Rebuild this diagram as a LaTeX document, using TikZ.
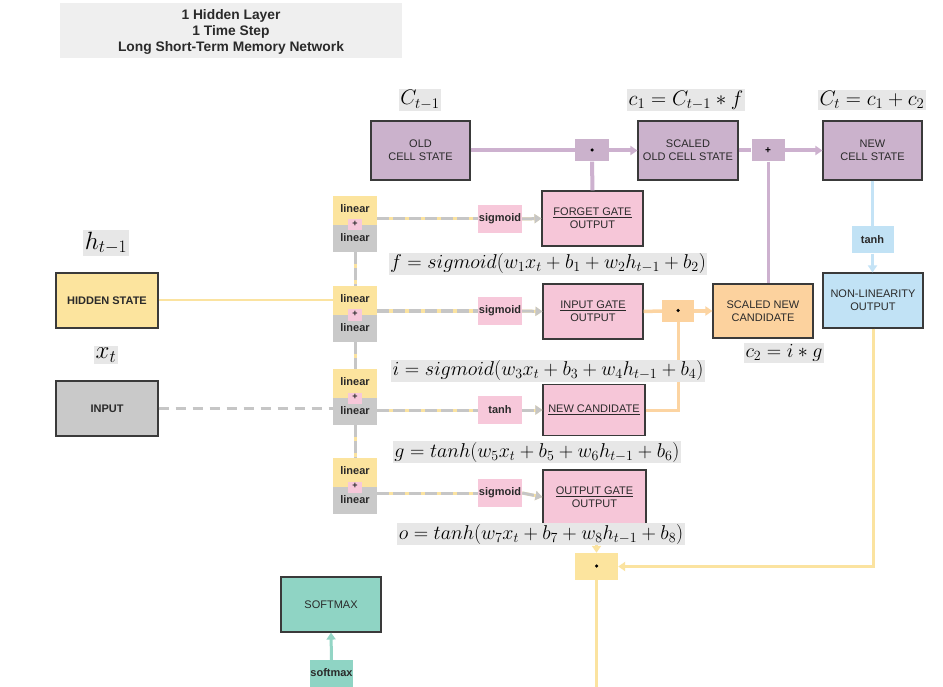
\documentclass[tikz,border=0pt]{standalone}
\usepackage{fix-cm}
\usepackage{fontspec}
\setmainfont{Liberation Sans}
\usetikzlibrary{arrows.meta}
\definecolor{cellfill}{HTML}{CBB2CC}
\definecolor{cellline}{HTML}{CDB1CF}
\definecolor{gatefill}{HTML}{F6C6D8}
\definecolor{sigfill}{HTML}{F7C8DA}
\definecolor{yelfill}{HTML}{FCE49E}
\definecolor{yelline}{HTML}{FBE3A0}
\definecolor{grayfill}{HTML}{C9C9C9}
\definecolor{grayline}{HTML}{C6C6C6}
\definecolor{orafill}{HTML}{FCD29E}
\definecolor{oraline}{HTML}{FCD4A2}
\definecolor{bluefill}{HTML}{C1E2F5}
\definecolor{blueline}{HTML}{C4E3F6}
\definecolor{tealfill}{HTML}{8FD4C4}
\definecolor{tealline}{HTML}{93D5C5}
\definecolor{labelgray}{HTML}{E7E7E7}
\definecolor{titlegray}{HTML}{EFEFEF}
\definecolor{boxborder}{HTML}{3A3A3A}
\definecolor{txt}{HTML}{2A2A2A}
\begin{document}
\begin{tikzpicture}[x=1pt,y=-1pt,
  bigbox/.style={draw=boxborder, line width=1.1pt, minimum width=100pt, minimum height=56pt, inner sep=0pt, align=center, text=txt, font=\fontsize{11}{13}\selectfont},
  smallbox/.style={inner sep=0pt, minimum width=44pt, minimum height=28pt, text=txt, font=\bfseries\fontsize{11}{13}\selectfont},
  opbox/.style={inner sep=0pt, minimum width=34pt, minimum height=22pt},
  mathlbl/.style={fill=labelgray, inner sep=1.5pt, text=black, font=\fontsize{20}{24}\selectfont},
  toplbl/.style={mathlbl, font=\fontsize{21}{25}\selectfont},
  arr/.style={-{Triangle[length=7pt,width=9pt]}},
  ygdash/.style={line width=3pt, draw=grayline, dash pattern=on 12pt off 4pt, preaction={draw=yelline, solid, line width=3pt}},
  dotsym/.style={circle, fill=black, inner sep=0pt, minimum size=3.5pt}
]
\clip (0,0) rectangle (943,687);
\fill[white] (0,0) rectangle (943,687);

% title
\node[fill=titlegray, minimum width=342pt, minimum height=55pt, inner sep=0pt] (titlebox) at (231,30.5) {};
\node[font=\bfseries\fontsize{13.8}{16}\selectfont, align=center, text=txt] (title) at (231,32) {1 Hidden Layer\\1 Time Step\\Long Short-Term Memory Network};

% cell state row
\node[bigbox, fill=cellfill, minimum width=99pt, minimum height=59pt] (oldcell) at (420.5,150.5) {OLD\\CELL STATE};
\node[bigbox, fill=cellfill, minimum width=100pt, minimum height=59pt] (scaled) at (688,150.5) {SCALED\\OLD CELL STATE};
\node[bigbox, fill=cellfill, minimum width=99pt, minimum height=59pt] (newcell) at (872.5,150.5) {NEW\\CELL STATE};
\node[opbox, fill=cellfill] (dotA) at (592,150.5) {};
\node[dotsym] (dotAs) at (592,150) {};
\node[opbox, fill=cellfill, minimum width=33pt] (plusA) at (768,150.5) {};
\node[font=\bfseries\fontsize{10}{11}\selectfont] (plusAs) at (768,150.5) {+};

\node[toplbl] (lblC) at (420,100) {$C_{t-1}$};
\node[toplbl] (lblc1) at (686,100) {$c_1 = C_{t-1} \ast f$};
\node[toplbl] (lblCt) at (872,100) {$C_t = c_1 + c_2$};

% gates
\node[bigbox, fill=gatefill, minimum width=101pt, minimum height=55pt] (forget) at (592.5,218.5) {\underline{FORGET GATE}\\OUTPUT};
\node[bigbox, fill=gatefill, minimum width=100pt, minimum height=55pt] (ingate) at (593,311.5) {\underline{INPUT GATE}\\OUTPUT};
\node[bigbox, fill=gatefill, minimum width=102pt, minimum height=51pt] (newcand) at (594,410) {\underline{NEW CANDIDATE}};
\node[bigbox, fill=gatefill, minimum width=103pt, minimum height=54pt] (outgate) at (594.5,497) {\underline{OUTPUT GATE}\\OUTPUT};

\node[smallbox, fill=sigfill] (sig1) at (500,219) {sigmoid};
\node[smallbox, fill=sigfill] (sig2) at (500,311) {sigmoid};
\node[smallbox, fill=sigfill] (tanh1) at (500,410) {tanh};
\node[smallbox, fill=sigfill] (sig3) at (500,493) {sigmoid};

% linear blocks
\foreach \n/\t in {1/196,2/286,3/369,4/458}{
  \node[smallbox, fill=yelfill, minimum height=29pt] (lin\n y) at (355,\t+14.5) {};
  \node[smallbox, fill=grayfill, minimum height=27pt] (lin\n g) at (355,\t+42.5) {};
  \node[fill=sigfill, minimum width=14pt, minimum height=11pt, inner sep=0pt] (lin\n p) at (355,\t+29) {};
  \node[smallbox, minimum height=0pt] (lin\n a) at (355,\t+13) {linear};
  \node[font=\bfseries\fontsize{9}{10}\selectfont, inner sep=0pt, text=txt] (lin\n b) at (355,\t+28) {+};
  \node[smallbox, minimum height=0pt] (lin\n c) at (355,\t+42) {linear};
}

% left inputs
\node[bigbox, fill=yelfill, minimum width=102pt, minimum height=55pt, font=\bfseries\fontsize{11}{13}\selectfont] (hidden) at (107,300.5) {HIDDEN STATE};
\node[bigbox, fill=grayfill, minimum width=102pt, minimum height=55pt, font=\bfseries\fontsize{11}{13}\selectfont] (input) at (107,408.5) {INPUT};
\node[mathlbl, font=\fontsize{25}{29}\selectfont] (lblh) at (106,243) {$h_{t-1}$};
\node[mathlbl, font=\fontsize{25}{29}\selectfont] (lblx) at (106,355) {$x_t$};

% right side
\node[opbox, fill=orafill, minimum width=32pt] (dotB) at (678,311) {};
\node[dotsym] (dotBs) at (678,310.5) {};
\node[bigbox, fill=orafill, minimum width=100pt, minimum height=54pt] (scand) at (763,311) {SCALED NEW\\CANDIDATE};
\node[mathlbl] (lblc2) at (784,353) {$c_2 = i \ast g$};
\node[smallbox, fill=bluefill, minimum width=42pt, minimum height=27pt] (tanh2) at (872.5,240) {tanh};
\node[bigbox, fill=bluefill, minimum width=100pt, minimum height=55pt] (nonlin) at (873,300.5) {NON-LINEARITY\\OUTPUT};

\node[opbox, fill=yelfill, minimum width=43pt, minimum height=27pt] (dotC) at (596.5,566.5) {};
\node[dotsym] (dotCs) at (596.5,566) {};
\coordinate (bottomout) at (596.5,700);

% softmax
\node[bigbox, fill=tealfill, minimum width=100pt, minimum height=55pt, font=\fontsize{11}{13}\selectfont] (softbox) at (331,604.5) {SOFTMAX};
\node[smallbox, fill=tealfill, minimum width=43pt, minimum height=34pt, anchor=north] (softsmall) at (331.5,660) {};
\node[smallbox, minimum height=0pt] (softtxt) at (331.5,673) {softmax};

% ---- connectors ----
% purple
\draw[cellline, line width=4pt] (oldcell.east) -- (dotA.west);
\draw[cellline, line width=4pt, arr] (dotA.east) -- (scaled.west);
\draw[cellline, line width=4pt] (forget.north) -- (dotA.south);
\draw[cellline, line width=4pt] (scaled.east) -- (plusA.west);
\draw[cellline, line width=4pt, arr] (plusA.east) -- (newcell.west);
\draw[cellline, line width=3pt] (plusA.south) -- (plusA.south |- scand.north);
% blue
\draw[blueline, line width=3pt] (newcell.south) -- (newcell.south |- tanh2.north);
\draw[blueline, line width=3pt, arr] (tanh2.south) -- (tanh2.south |- nonlin.north);
% yellow output
\draw[yelline, line width=3pt, arr] (nonlin.south) |- (dotC.east);
\draw[yelline, line width=3pt, arr] (outgate.south -| dotC.north) -- (dotC.north);
\draw[yelline, line width=3pt] (dotC.south) -- (bottomout);
% orange
\draw[oraline, line width=3.5pt] (ingate.east) -- (dotB.west);
\draw[oraline, line width=3.5pt, arr] (dotB.east) -- (scand.west);
\draw[oraline, line width=3pt] (newcand.east) -| (dotB.south);
% inputs
\draw[yelline, line width=2pt] (hidden.east) -- (lin2y.west |- hidden.east);
\draw[grayline, line width=2.5pt, dash pattern=on 10pt off 7pt] (input.east) -- (lin3g.west |- input.east);
% linear to activations
\draw[ygdash] (sig1.west -| lin1y.east) -- (sig1.west);
\draw[ygdash] (sig2.west -| lin2y.east) -- (sig2.west);
\draw[ygdash] (tanh1.west -| lin3g.east) -- (tanh1.west);
\draw[ygdash] (sig3.west -| lin4g.east) -- (sig3.west);
% activations to gates
\draw[ygdash, arr] (sig1.east) -- (forget.west);
\draw[ygdash, arr] (sig2.east) -- (ingate.west);
\draw[ygdash, arr] (tanh1.east) -- (newcand.west);
\draw[ygdash, arr] (sig3.east) -- (outgate.west);
% verticals
\draw[ygdash] (lin1g.south) -- (lin2y.north);
\draw[ygdash] (lin2g.south) -- (lin3y.north);
\draw[ygdash] (lin3g.south) -- (lin4y.north);
% softmax
\draw[tealline, line width=3pt, arr] (softsmall.north) -- (softbox.south);

% equations (on top of lines)
\node[mathlbl] (eqf) at (548,264) {$f = sigmoid(w_1 x_t + b_1 + w_2 h_{t-1} + b_2)$};
\node[mathlbl] (eqi) at (548,371) {$i = sigmoid(w_3 x_t + b_3 + w_4 h_{t-1} + b_4)$};
\node[mathlbl] (eqg) at (537,452) {$g = tanh(w_5 x_t + b_5 + w_6 h_{t-1} + b_6)$};
\node[mathlbl] (eqo) at (541,534) {$o = tanh(w_7 x_t + b_7 + w_8 h_{t-1} + b_8)$};
\end{tikzpicture}
\end{document}
